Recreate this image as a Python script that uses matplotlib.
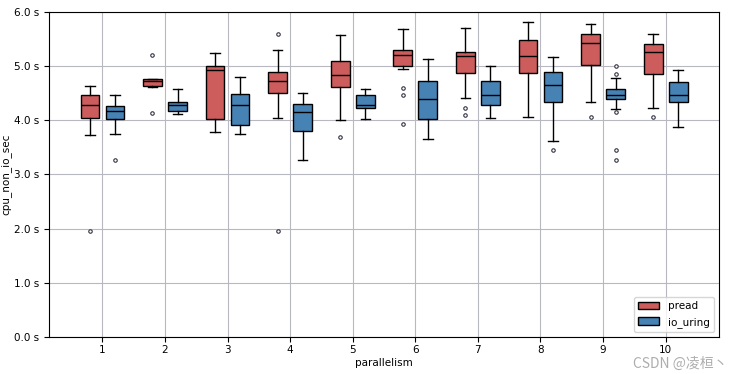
import matplotlib.pyplot as plt
from matplotlib.patches import Patch
from matplotlib.ticker import FuncFormatter

parallelism = [1, 2, 3, 4, 5, 6, 7, 8, 9, 10]

# box stats (seconds)
pread_lo = [3.72, 4.62, 3.79, 4.05, 4.00, 4.94, 4.42, 4.07, 4.33, 4.23]
pread_q1 = [4.05, 4.63, 4.03, 4.51, 4.62, 5.01, 4.88, 4.88, 5.03, 4.86]
pread_med = [4.29, 4.72, 4.92, 4.73, 4.84, 5.21, 5.18, 5.19, 5.42, 5.27]
pread_q3 = [4.47, 4.76, 5.01, 4.90, 5.10, 5.29, 5.27, 5.49, 5.60, 5.40]
pread_hi = [4.64, 4.76, 5.25, 5.29, 5.58, 5.69, 5.71, 5.82, 5.77, 5.60]
pread_fliers = [[1.96], [5.21, 4.14], [], [5.60, 1.96], [3.70],
                [4.60, 4.46, 3.94], [4.22, 4.09], [], [4.07], [4.07]]

uring_lo = [3.75, 4.12, 3.75, 3.26, 4.03, 3.66, 4.05, 3.61, 4.20, 3.88]
uring_q1 = [4.03, 4.18, 3.92, 3.81, 4.22, 4.03, 4.29, 4.34, 4.40, 4.34]
uring_med = [4.18, 4.28, 4.29, 4.15, 4.29, 4.40, 4.46, 4.66, 4.47, 4.46]
uring_q3 = [4.27, 4.34, 4.49, 4.30, 4.46, 4.73, 4.73, 4.90, 4.57, 4.70]
uring_hi = [4.46, 4.57, 4.80, 4.51, 4.58, 5.14, 5.01, 5.16, 4.79, 4.92]
uring_fliers = [[3.27], [], [], [], [], [], [], [3.46],
                [5.01, 4.86, 4.16, 3.46, 3.27], []]


def make_stats(lo, q1, med, q3, hi, fl):
    return [dict(whislo=a, q1=b, med=c, q3=d, whishi=e, fliers=f)
            for a, b, c, d, e, f in zip(lo, q1, med, q3, hi, fl)]


plt.rcParams['font.size'] = 7.5
fig, ax = plt.subplots(figsize=(7.35, 3.74), dpi=100)

flier = dict(marker='o', markersize=2.5, markerfacecolor='white',
             markeredgecolor='#333344', markeredgewidth=0.8)
common = dict(widths=0.3, patch_artist=True, showfliers=True,
              medianprops=dict(color='black', linewidth=1),
              whiskerprops=dict(color='black', linewidth=1),
              capprops=dict(color='black', linewidth=1),
              flierprops=flier)

b1 = ax.bxp(make_stats(pread_lo, pread_q1, pread_med, pread_q3, pread_hi, pread_fliers),
            positions=[p - 0.2 for p in parallelism],
            boxprops=dict(facecolor='#CD5C5C', edgecolor='black', linewidth=1), **common)
b2 = ax.bxp(make_stats(uring_lo, uring_q1, uring_med, uring_q3, uring_hi, uring_fliers),
            positions=[p + 0.2 for p in parallelism],
            boxprops=dict(facecolor='#4682B4', edgecolor='black', linewidth=1), **common)

ax.set_xticks(parallelism)
ax.set_xticklabels([str(p) for p in parallelism])
ax.set_xlim(0.15, 10.85)
ax.set_ylim(0, 6)
ax.set_yticks([0, 1, 2, 3, 4, 5, 6])
ax.yaxis.set_major_formatter(FuncFormatter(lambda v, _: f"{v:.1f} s"))
ax.grid(True, color='#b8b8c0', linewidth=0.8)
ax.set_axisbelow(True)
ax.tick_params(axis='x', pad=2.5)
ax.set_xlabel("parallelism", labelpad=2)
ax.set_ylabel("cpu_non_io_sec", labelpad=2)

ax.legend(handles=[Patch(facecolor='#CD5C5C', edgecolor='black', label='pread'),
                   Patch(facecolor='#4682B4', edgecolor='black', label='io_uring')],
          loc='lower right', fontsize=7.5)

fig.subplots_adjust(left=0.067, right=0.978, top=0.968, bottom=0.099)
fig.text(0.99, 0.028, "CSDN @凌桓丶", ha='right', va='center', fontsize=10,
         color='#999999', alpha=0.8, family=['Noto Sans CJK SC', 'DejaVu Sans'])

fig.savefig("out.png", dpi=100)
